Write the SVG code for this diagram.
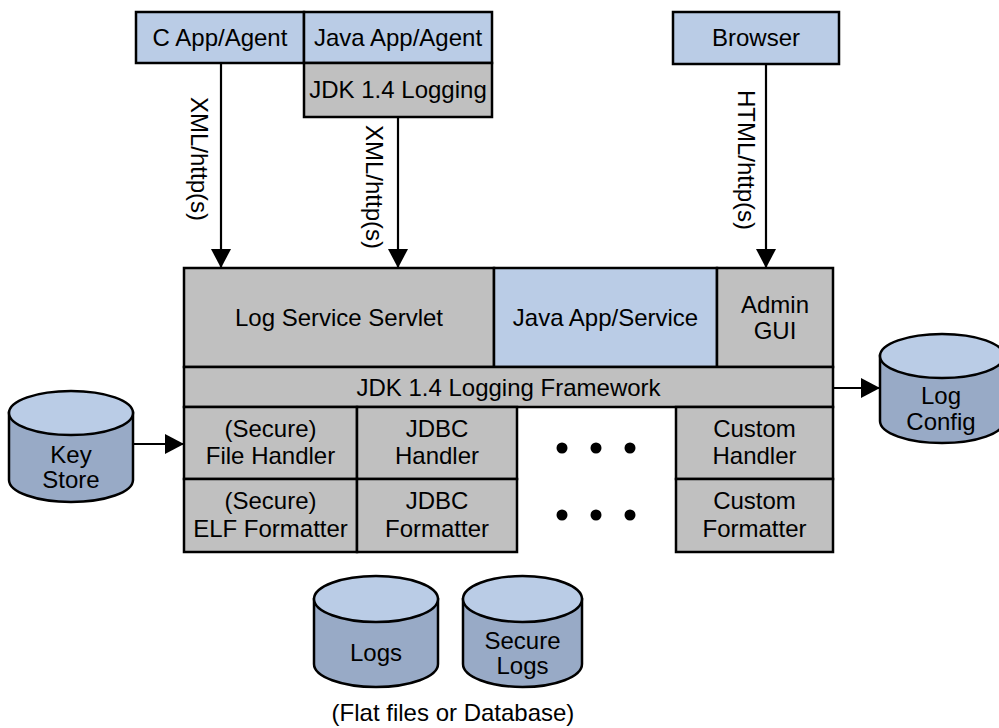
<svg xmlns="http://www.w3.org/2000/svg" width="999" height="728" viewBox="0 0 999 728">
<style>
.b{fill:#bacce6;stroke:#000;stroke-width:2.5}
.g{fill:#c0c0c0;stroke:#000;stroke-width:2.5}
.cb{fill:#98aac6;stroke:#000;stroke-width:2.5}
.ct{fill:#bacce6;stroke:#000;stroke-width:2.5}
text{font-family:"Liberation Sans",Arial,sans-serif;font-size:24px;fill:#000;text-anchor:middle}
.c{stroke:#000;stroke-width:2.2;fill:none}
</style>
<defs>
<marker id="ah" markerUnits="userSpaceOnUse" markerWidth="19" markerHeight="20" refX="19" refY="10" orient="auto">
<path d="M0,0 L19,10 L0,20 z" fill="#000"/>
</marker>
</defs>
<rect width="999" height="728" fill="#fff"/>

<g id="connectors">
<line class="c" x1="221" y1="63" x2="221" y2="268" marker-end="url(#ah)"/>
<line class="c" x1="398" y1="117" x2="398" y2="268" marker-end="url(#ah)"/>
<line class="c" x1="766" y1="64" x2="766" y2="268" marker-end="url(#ah)"/>
<line class="c" x1="833" y1="388" x2="880" y2="388" marker-end="url(#ah)"/>
<line class="c" x1="133" y1="444" x2="184" y2="444" marker-end="url(#ah)"/>
<text transform="translate(191,159) rotate(90)">XML/http(s)</text>
<text transform="translate(366,187) rotate(90)">XML/http(s)</text>
<text transform="translate(738,160) rotate(90)">HTML/http(s)</text>
</g>

<g id="c-app"><rect class="b" x="136" y="12" width="168" height="51"/><text x="220" y="46">C App/Agent</text></g>
<g id="java-app-agent"><rect class="b" x="304" y="12" width="188" height="51"/><text x="398" y="46">Java App/Agent</text></g>
<g id="jdk-logging"><rect class="g" x="304" y="63" width="188" height="54"/><text x="398" y="98">JDK 1.4 Logging</text></g>
<g id="browser"><rect class="b" x="673" y="12" width="166" height="52"/><text x="756" y="46">Browser</text></g>

<g id="log-service-servlet"><rect class="g" x="184" y="268" width="310" height="99"/><text x="339" y="326">Log Service Servlet</text></g>
<g id="java-app-service"><rect class="b" x="494" y="268" width="223" height="99"/><text x="605.5" y="326">Java App/Service</text></g>
<g id="admin-gui"><rect class="g" x="717" y="268" width="116" height="99"/><text x="775" y="313">Admin</text><text x="775" y="339">GUI</text></g>
<g id="framework"><rect class="g" x="184" y="367" width="649" height="40"/><text x="508.5" y="396">JDK 1.4 Logging Framework</text></g>

<g id="file-handler"><rect class="g" x="184" y="407" width="173" height="72"/><text x="270.5" y="437">(Secure)</text><text x="270.5" y="464">File Handler</text></g>
<g id="jdbc-handler"><rect class="g" x="357" y="407" width="160" height="72"/><text x="437" y="437">JDBC</text><text x="437" y="464">Handler</text></g>
<g id="custom-handler"><rect class="g" x="676" y="407" width="157" height="72"/><text x="754.5" y="437">Custom</text><text x="754.5" y="464">Handler</text></g>
<g id="elf-formatter"><rect class="g" x="184" y="479" width="173" height="73"/><text x="270.5" y="509">(Secure)</text><text x="270.5" y="537">ELF Formatter</text></g>
<g id="jdbc-formatter"><rect class="g" x="357" y="479" width="160" height="73"/><text x="437" y="509">JDBC</text><text x="437" y="537">Formatter</text></g>
<g id="custom-formatter"><rect class="g" x="676" y="479" width="157" height="73"/><text x="754.5" y="509">Custom</text><text x="754.5" y="537">Formatter</text></g>

<g id="dots" fill="#000">
<circle cx="562" cy="448" r="5.5"/><circle cx="596" cy="448" r="5.5"/><circle cx="630" cy="448" r="5.5"/>
<circle cx="562" cy="515" r="5.5"/><circle cx="596" cy="515" r="5.5"/><circle cx="630" cy="515" r="5.5"/>
</g>

<g id="key-store">
<path class="cb" d="M9,413 L9,480 A62,22 0 0 0 133,480 L133,413 Z"/>
<ellipse class="ct" cx="71" cy="413" rx="62" ry="22"/>
<text x="71" y="463">Key</text><text x="71" y="488">Store</text>
</g>

<g id="log-config">
<path class="cb" d="M880,356 L880,421 A62,22 0 0 0 1004,421 L1004,356 Z"/>
<ellipse class="ct" cx="942" cy="356" rx="62" ry="22"/>
<text x="941" y="404">Log</text><text x="941" y="430">Config</text>
</g>

<g id="logs">
<path class="cb" d="M314,599 L314,664 A62,23 0 0 0 438,664 L438,599 Z"/>
<ellipse class="ct" cx="376" cy="599" rx="62" ry="23"/>
<text x="376" y="661">Logs</text>
</g>

<g id="secure-logs">
<path class="cb" d="M463,599 L463,664 A59.5,23 0 0 0 582,664 L582,599 Z"/>
<ellipse class="ct" cx="522.5" cy="599" rx="59.5" ry="23"/>
<text x="522.5" y="649">Secure</text><text x="522.5" y="674">Logs</text>
</g>

<text x="453" y="721">(Flat files or Database)</text>
</svg>
